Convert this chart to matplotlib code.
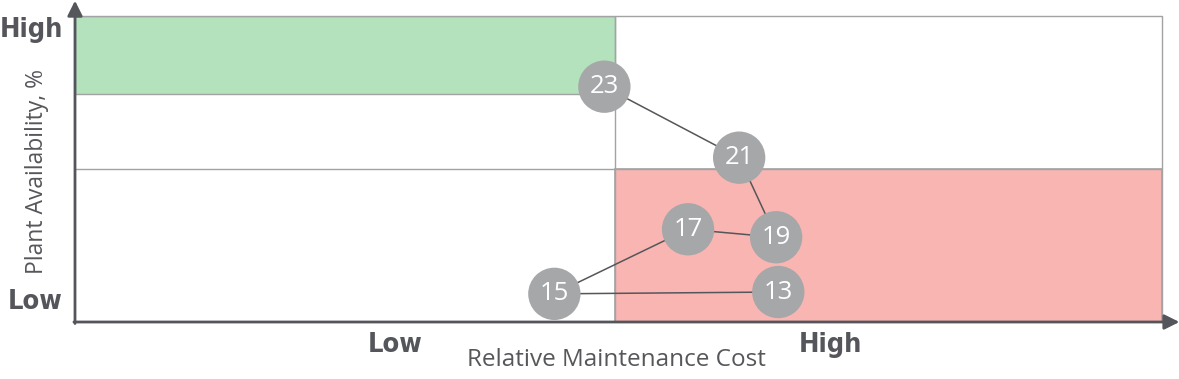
import matplotlib
matplotlib.use("Agg")
import matplotlib.pyplot as plt
from matplotlib.patches import Rectangle

# Data
labels = ["23", "21", "19", "17", "15", "13"]
cost = [0.487, 0.611, 0.645, 0.564, 0.441, 0.647]
availability = [0.769, 0.537, 0.277, 0.303, 0.092, 0.098]
level_ticks = ["Low", "High"]

axis_col = "#54565b"
grid_col = "#a3a3a3"

fig = plt.figure(figsize=(11.79, 3.79), dpi=100)
ax = fig.add_axes([75/1179, 1-322/379, 1087/1179, 306/379])
ax.set_xlim(0, 1)
ax.set_ylim(0, 1)
for s in ax.spines.values():
    s.set_visible(False)
ax.set_xticks([])
ax.set_yticks([])

# quadrant shading
ax.add_patch(Rectangle((0, 0.745), 0.497, 0.255, facecolor="#b3e2bc", edgecolor=grid_col, lw=1, zorder=1))
ax.add_patch(Rectangle((0.497, 0), 0.503, 0.5, facecolor="#f9b5b2", edgecolor=grid_col, lw=1.2, zorder=1))
# frame and dividers
ax.plot([0, 1, 1], [1, 1, 0], color=grid_col, lw=1, zorder=1, clip_on=False)
ax.plot([0.497, 0.497], [0, 1], color=grid_col, lw=1, zorder=1)
ax.plot([0, 1], [0.5, 0.5], color=grid_col, lw=1, zorder=1)

# axes arrows
ax.annotate("", xy=(0, 1.05), xytext=(0, -0.005), xycoords="axes fraction",
            arrowprops=dict(arrowstyle="-|>,head_length=0.9,head_width=0.45", color=axis_col, lw=2,
                            shrinkA=0, shrinkB=0), annotation_clip=False)
ax.annotate("", xy=(1.016, 0), xytext=(-0.001, 0), xycoords="axes fraction",
            arrowprops=dict(arrowstyle="-|>,head_length=0.9,head_width=0.45", color=axis_col, lw=2,
                            shrinkA=0, shrinkB=0), annotation_clip=False)

# path and bubbles
ax.plot(cost, availability, color="#55565a", lw=1.1, zorder=2)
ax.scatter(cost, availability, s=1420, color="#a6a7a9", zorder=3, edgecolors="none")
for x, y, t in zip(cost, availability, labels):
    ax.text(x, y, t, color="white", fontsize=18.5, ha="center", va="center",
            family=["Open Sans", "DejaVu Sans"], zorder=4)

# level labels
bold = dict(family=["DejaVu Sans"], fontstretch="condensed", fontweight="bold",
            color=axis_col, fontsize=19.5)
fig.text(63/1179, 1-30/379, level_ticks[1], ha="right", va="center", **bold)
fig.text(62/1179, 1-302/379, level_ticks[0], ha="right", va="center", **bold)
fig.text(395/1179, 1-345/379, level_ticks[0], ha="center", va="center", **bold)
fig.text(830/1179, 1-345/379, level_ticks[1], ha="center", va="center", **bold)

lab = dict(color="#56575b", family=["Open Sans", "DejaVu Sans"])
fig.text(616/1179, 1-360/379, "Relative Maintenance Cost", ha="center", va="center", fontsize=17.5, **lab)
fig.text(37/1179, 1-172/379, "Plant Availability, %", ha="center", va="center", rotation=90,
         fontsize=16.5, **lab)

fig.savefig("out.png", dpi=100)
